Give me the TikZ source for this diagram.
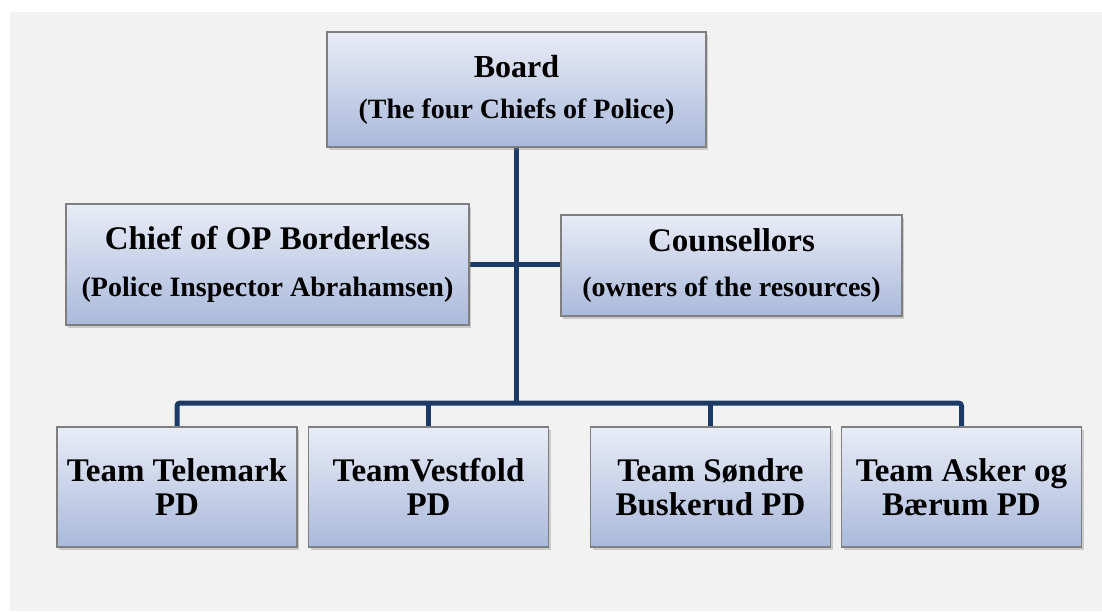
\documentclass[tikz,border=0pt]{standalone}
\usepackage{fontspec}
\setmainfont{Liberation Serif}
\usetikzlibrary{shadows,backgrounds}
\definecolor{bggray}{HTML}{F2F2F2}
\definecolor{linenavy}{HTML}{1B3A66}
\definecolor{boxtop}{HTML}{E8ECF6}
\definecolor{boxbot}{HTML}{AAB9DB}
\definecolor{boxedge}{HTML}{7F7F7F}
\tikzset{
  orgbox/.style={draw=boxedge, line width=1.4pt, top color=boxtop, bottom color=boxbot,
    inner sep=0pt, align=center,
    drop shadow={opacity=0.35, shadow xshift=2pt, shadow yshift=-3pt}},
  teambox/.style={orgbox, minimum width=240pt, minimum height=120pt,
    font=\bfseries\fontsize{33}{34}\selectfont},
  link/.style={draw=linenavy, line width=5pt},
}
\begin{document}
\begin{tikzpicture}[x=1pt,y=-1pt]
\useasboundingbox (0,0) rectangle (1102,611);

\coordinate (bus) at (517,403);

\node[orgbox, minimum width=379pt, minimum height=115pt,
  font=\bfseries\fontsize{28}{41}\selectfont] (board) at (516.5,89.5)
  {{\fontsize{32}{41}\selectfont Board}\\(The four Chiefs of Police)};
\node[orgbox, minimum width=403pt, minimum height=121pt,
  font=\bfseries\fontsize{28}{47}\selectfont] (chief) at (267.5,264.5)
  {{\fontsize{33}{47}\selectfont Chief of OP Borderless}\\(Police Inspector Abrahamsen)};
\node[orgbox, minimum width=341pt, minimum height=101pt,
  font=\bfseries\fontsize{28}{45}\selectfont] (couns) at (731.5,265.5)
  {{\fontsize{33}{45}\selectfont Counsellors}\\(owners of the resources)};

\node[teambox] (tele) at (177,487) {Team Telemark\\PD};
\node[teambox] (vest) at (428.5,487) {TeamVestfold\\PD};
\node[teambox] (sond) at (710.5,487) {Team Søndre\\Buskerud PD};
\node[teambox] (asker) at (961.5,487) {Team Asker og\\Bærum PD};

\begin{scope}[on background layer]
\fill[white] (0,0) rectangle (1102,611);
\fill[bggray] (10,12) rectangle (1102,611);
\draw[link] (board.south) -- (board.south |- bus);
\draw[link] (chief.east) -- (chief.east -| couns.west);
\draw[link, rounded corners=3pt] (tele.north) |- (bus) -| (asker.north);
\draw[link] (vest.north) -- (vest.north |- bus);
\draw[link] (sond.north) -- (sond.north |- bus);
\end{scope}
\end{tikzpicture}
\end{document}
